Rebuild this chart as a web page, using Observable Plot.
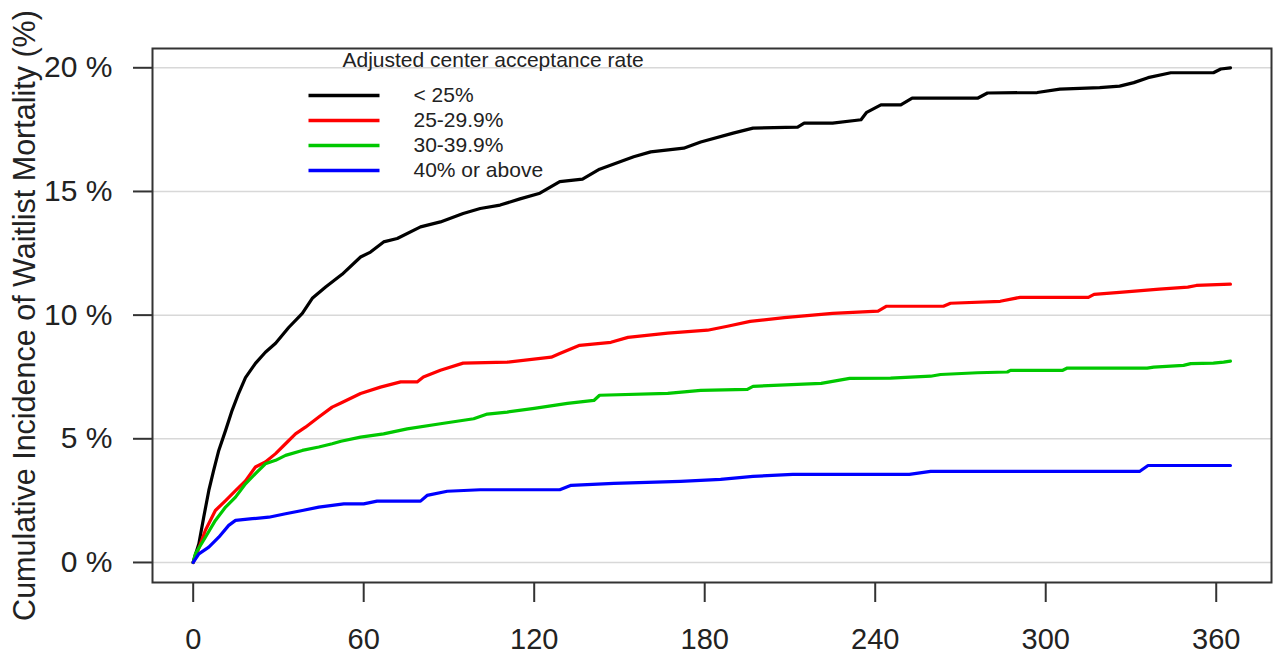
<!DOCTYPE html>
<html>
<head>
<meta charset="utf-8">
<script src="https://cdn.jsdelivr.net/npm/d3@7"></script>
<script src="https://cdn.jsdelivr.net/npm/@observablehq/plot@0.6"></script>
<style>
  html, body { margin: 0; padding: 0; background: #fff; }
</style>
</head>
<body>
<div id="chart"></div>
<script>
// ---- Data ----
const legendTitle = "Adjusted center acceptance rate";
const seriesNames = ["< 25%", "25-29.9%", "30-39.9%", "40% or above"];
const seriesColors = ["#000000", "#ff0000", "#00c800", "#0000ff"];

const xTicks = [0, 60, 120, 180, 240, 300, 360];
const yTicks = [0, 5, 10, 15, 20];
const yTitle = "Cumulative Incidence of Waitlist Mortality (%)";

// < 25%
const lt25Day = [0, 0.2, 2, 3.7, 5.5, 7.2, 9, 11.4, 13.7, 16, 18.4, 21.9, 25.4, 29, 33.6, 38.4, 41.9, 46.6, 52.4, 58.9, 62.4, 67, 71.8, 80, 87, 95, 101, 108, 115, 122, 129, 137, 143, 155, 161, 172.6, 178.6, 190, 197, 212.7, 215, 225, 235, 237, 242, 249, 253, 276, 279.5, 297, 305, 319, 326, 331, 336, 344, 359, 361.6, 365];
const lt25Pct = [0, 0.1, 0.76, 1.83, 2.91, 3.72, 4.53, 5.34, 6.15, 6.84, 7.47, 8.05, 8.5, 8.86, 9.5, 10.07, 10.68, 11.14, 11.65, 12.35, 12.55, 12.96, 13.1, 13.57, 13.77, 14.11, 14.31, 14.45, 14.7, 14.93, 15.4, 15.5, 15.9, 16.4, 16.6, 16.75, 17.0, 17.36, 17.56, 17.6, 17.76, 17.76, 17.9, 18.2, 18.5, 18.5, 18.77, 18.77, 18.98, 19.0, 19.14, 19.2, 19.26, 19.4, 19.6, 19.8, 19.8, 19.95, 20.0];

// 25-29.9%
const r25Day = [0, 0.8, 4.3, 7.8, 11.4, 14.9, 18.4, 21.9, 25.4, 29, 32.5, 36, 39.5, 44.2, 48.9, 52, 58.9, 65.9, 73, 78.8, 81, 87, 95, 110.5, 126, 129, 136, 147, 153, 167, 181, 188, 196, 208, 225, 241, 244, 264, 266.5, 284, 291, 315, 317, 326, 340, 350, 353, 365];
const r25Pct = [0, 0.21, 1.3, 2.1, 2.5, 2.9, 3.3, 3.86, 4.06, 4.4, 4.8, 5.2, 5.47, 5.88, 6.28, 6.45, 6.83, 7.09, 7.3, 7.3, 7.5, 7.77, 8.06, 8.1, 8.3, 8.45, 8.78, 8.9, 9.1, 9.27, 9.39, 9.55, 9.75, 9.9, 10.07, 10.16, 10.36, 10.36, 10.48, 10.56, 10.72, 10.72, 10.84, 10.92, 11.05, 11.13, 11.2, 11.25];

// 30-39.9%
const r30Day = [0, 0.8, 4.3, 7.8, 11.4, 14.9, 18.4, 21.9, 25.4, 29, 32.5, 38.4, 44.2, 48.9, 52, 58.9, 67, 75.3, 87, 98.7, 103.5, 110.5, 120, 131.7, 141, 143, 167, 178.6, 195, 197, 221, 231, 245.4, 259.5, 263, 276, 286.5, 287.6, 306, 307.6, 335.7, 338, 348.5, 351, 359, 362.6, 365];
const r30Pct = [0, 0.36, 1.02, 1.7, 2.24, 2.64, 3.18, 3.59, 3.99, 4.13, 4.33, 4.53, 4.67, 4.8, 4.9, 5.07, 5.2, 5.4, 5.61, 5.81, 6.0, 6.08, 6.23, 6.43, 6.55, 6.76, 6.84, 6.96, 7.0, 7.12, 7.24, 7.44, 7.45, 7.53, 7.6, 7.67, 7.7, 7.77, 7.77, 7.86, 7.86, 7.9, 7.97, 8.04, 8.06, 8.1, 8.14];

// 40% or above
const r40Day = [0, 2, 5.5, 9, 12.5, 14.9, 20.8, 26.6, 32.5, 38.4, 44.2, 53, 60, 64.7, 80, 82.3, 89.4, 101, 129, 133, 148, 171.5, 185.6, 197, 211, 252, 259.5, 333, 336, 365];
const r40Pct = [0, 0.35, 0.62, 1.02, 1.5, 1.7, 1.77, 1.83, 1.97, 2.1, 2.24, 2.37, 2.37, 2.48, 2.48, 2.71, 2.88, 2.94, 2.94, 3.12, 3.2, 3.28, 3.36, 3.48, 3.56, 3.56, 3.68, 3.68, 3.92, 3.92];

// ---- Build table ----
const seriesDays = [lt25Day, r25Day, r30Day, r40Day];
const seriesPcts = [lt25Pct, r25Pct, r30Pct, r40Pct];
const rows = [];
seriesNames.forEach((name, i) => {
  seriesDays[i].forEach((d, j) => rows.push({group: name, day: d, pct: seriesPcts[i][j]}));
});

const hline = {
  draw(context) {
    context.moveTo(-35.5, 0);
    context.lineTo(35.5, 0);
  }
};

const FONT = "'Liberation Sans', Arial, Helvetica, sans-serif";
const INK = "#222";

const legendMarks = [];
legendMarks.push(Plot.text([legendTitle], {
  text: d => d, frameAnchor: "top-left", dx: 190, dy: 12,
  textAnchor: "start", lineAnchor: "middle", fontSize: 21, fill: INK
}));
seriesNames.forEach((name, i) => {
  const dy = 47 + i * 25;
  legendMarks.push(Plot.dot([name], {
    frameAnchor: "top-left", dx: 191.5, dy,
    symbol: hline, r: 1, fill: "none", stroke: seriesColors[i], strokeWidth: 3.5
  }));
  legendMarks.push(Plot.text([name], {
    text: d => d, frameAnchor: "top-left", dx: 261, dy,
    textAnchor: "start", lineAnchor: "middle", fontSize: 21, fill: INK
  }));
});

const chart = Plot.plot({
  width: 1281,
  height: 658,
  marginLeft: 152,
  marginRight: 10,
  marginTop: 48,
  marginBottom: 76,
  style: {fontFamily: FONT, background: "#fff", color: INK, overflow: "visible"},
  x: {domain: [-14.32, 379.45]},
  y: {domain: [-0.81, 20.78]},
  color: {domain: seriesNames, range: seriesColors},
  marks: [
    Plot.gridY(yTicks, {stroke: "#d8d8d8", strokeOpacity: 1, strokeWidth: 1.5}),
    Plot.line(rows, {
      x: "day", y: "pct", z: "group", stroke: "group",
      strokeWidth: 3.2, curve: "linear"
    }),
    Plot.frame({stroke: "#333", strokeWidth: 2}),
    Plot.axisY({
      ticks: yTicks, tickFormat: d => d + " %", tickSize: 19, tickPadding: 21,
      fontSize: 30, label: null, stroke: "#333", strokeWidth: 2, fill: INK
    }),
    Plot.axisX({
      ticks: xTicks, tickFormat: d => String(d), tickSize: 20, tickPadding: 26,
      fontSize: 29, label: null, stroke: "#333", strokeWidth: 2, fill: INK
    }),
    Plot.text([yTitle], {
      text: d => d, frameAnchor: "left", dx: -127, dy: 0, rotate: -90,
      textAnchor: "middle", fontSize: 30.5, fill: INK
    }),
    ...legendMarks
  ]
});

document.getElementById("chart").appendChild(chart);
</script>
</body>
</html>
